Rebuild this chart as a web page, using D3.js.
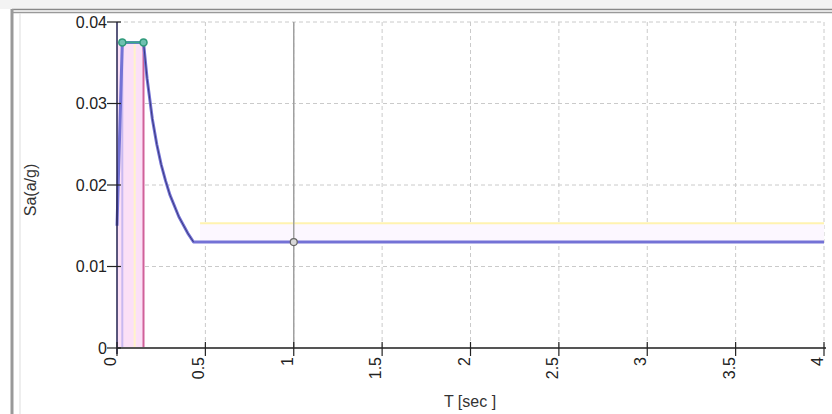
<!DOCTYPE html>
<html>
<head>
<meta charset="utf-8">
<script src="https://cdn.jsdelivr.net/npm/d3@7"></script>
<style>
  body { margin: 0; background: #fff; }
  svg { display: block; font-family: Arial, "Liberation Sans", sans-serif; }
</style>
</head>
<body>
<svg id="chart"></svg>
<script>
// Design response spectrum Sa(T)

const svg = d3.select("#chart");
const width = 832;
const height = 414;
svg.attr("width", width).attr("height", height);

// data
const periods = [0, 0.03, 0.15, 0.17, 0.2, 0.225, 0.25, 0.275, 0.3, 0.35, 0.4, 0.433, 1, 2, 3, 4];
const saValues = [0.015, 0.0375, 0.0375, 0.0331, 0.0281, 0.025, 0.0225, 0.0205, 0.01875, 0.0161, 0.0141, 0.013, 0.013, 0.013, 0.013, 0.013];
const plateau = [0.03, 0.15];     // T0, Ts
const plateauSa = 0.0375;
const markerT = 1;
const markerSa = 0.013;
const yellowSa = 0.0153;
const yellowFrom = 0.47;
const xTicks = [0, 0.5, 1, 1.5, 2, 2.5, 3, 3.5, 4];
const xTickLabels = ["0", "0.5", "1", "1.5", "2", "2.5", "3", "3.5", "4"];
const yTicks = [0, 0.01, 0.02, 0.03, 0.04];
const yTickLabels = ["0", "0.01", "0.02", "0.03", "0.04"];

const x = d3.scaleLinear().domain([0, 4]).range([117, 824]);
const y = d3.scaleLinear().domain([0, 0.04]).range([348, 22]);

// panel frame
svg.append("rect").attr("x", 0).attr("y", 0).attr("width", width).attr("height", 9).attr("fill", "#f3f3f3");
svg.append("line").attr("x1", 12).attr("x2", width).attr("y1", 9.5).attr("y2", 9.5).attr("stroke", "#888").attr("stroke-width", 1.5);
svg.append("line").attr("x1", 12).attr("x2", width).attr("y1", 12.5).attr("y2", 12.5).attr("stroke", "#999").attr("stroke-width", 1.5);
svg.append("line").attr("x1", 12).attr("x2", 12).attr("y1", 9).attr("y2", height).attr("stroke", "#999").attr("stroke-width", 3);
svg.append("line").attr("x1", 20).attr("x2", 20).attr("y1", 13).attr("y2", height).attr("stroke", "#ddd").attr("stroke-width", 1);

// grid
const grid = svg.append("g");
grid.selectAll(".gx").data(xTicks.slice(1)).join("line")
    .attr("x1", d => x(d)).attr("x2", d => x(d))
    .attr("y1", y(0.04)).attr("y2", y(0))
    .attr("stroke", "#cacaca").attr("stroke-dasharray", "4,3");
grid.selectAll(".gy").data(yTicks.slice(1)).join("line")
    .attr("x1", x(0)).attr("x2", x(4))
    .attr("y1", d => y(d)).attr("y2", d => y(d))
    .attr("stroke", "#cacaca").attr("stroke-dasharray", "4,3");

// shaded plateau band
svg.append("rect")
    .attr("x", x(0)).attr("width", x(plateau[1]) - x(0))
    .attr("y", y(plateauSa)).attr("height", y(0) - y(plateauSa))
    .attr("fill", "#fbe0f6");
svg.append("line")
    .attr("x1", x(plateau[0])).attr("x2", x(plateau[0]))
    .attr("y1", y(plateauSa)).attr("y2", y(0))
    .attr("stroke", "#c8b8f0").attr("stroke-width", 2);
svg.append("line")
    .attr("x1", x(0.1)).attr("x2", x(0.1))
    .attr("y1", y(plateauSa)).attr("y2", y(0))
    .attr("stroke", "#fff3c8").attr("stroke-width", 2);
svg.append("line")
    .attr("x1", x(plateau[1])).attr("x2", x(plateau[1]))
    .attr("y1", y(plateauSa)).attr("y2", y(0))
    .attr("stroke", "#d0609a").attr("stroke-width", 2);

// faint band under yellow line
svg.append("rect")
    .attr("x", x(yellowFrom)).attr("width", x(4) - x(yellowFrom))
    .attr("y", y(yellowSa)).attr("height", y(markerSa) - y(yellowSa))
    .attr("fill", "#fcf7ff");
svg.append("line")
    .attr("x1", x(yellowFrom)).attr("x2", x(4))
    .attr("y1", y(yellowSa)).attr("y2", y(yellowSa))
    .attr("stroke", "#fff3b0").attr("stroke-width", 2);

// vertical marker line at T = 1
svg.append("line")
    .attr("x1", x(markerT)).attr("x2", x(markerT))
    .attr("y1", y(0.04)).attr("y2", y(0))
    .attr("stroke", "#a0a0a0").attr("stroke-width", 1.5);

// spectrum curve
const line = d3.line().x((d, i) => x(periods[i])).y(d => y(d));
svg.append("path")
    .datum(saValues)
    .attr("d", line)
    .attr("fill", "none")
    .attr("stroke", "#7472d6")
    .attr("stroke-width", 3)
    .attr("stroke-linejoin", "round");
svg.append("path")
    .datum(saValues.slice(2, 12))
    .attr("d", d3.line().x((d, i) => x(periods[i + 2])).y(d => y(d)))
    .attr("fill", "none")
    .attr("stroke", "#3a3a80")
    .attr("stroke-width", 1);

// plateau markers
svg.append("line")
    .attr("x1", x(plateau[0])).attr("x2", x(plateau[1]))
    .attr("y1", y(plateauSa)).attr("y2", y(plateauSa))
    .attr("stroke", "#3aa88a").attr("stroke-width", 2);
svg.selectAll(".pm").data(plateau).join("circle")
    .attr("cx", d => x(d)).attr("cy", y(plateauSa)).attr("r", 3.5)
    .attr("fill", "#6fc0b0").attr("stroke", "#2f9a7a").attr("stroke-width", 1.5);
svg.append("circle")
    .attr("cx", x(markerT)).attr("cy", y(markerSa)).attr("r", 3.5)
    .attr("fill", "#d8d8d8").attr("stroke", "#666").attr("stroke-width", 1.2);

// axes
svg.append("line").attr("x1", x(0)).attr("x2", x(4) + 2).attr("y1", y(0)).attr("y2", y(0))
    .attr("stroke", "#555").attr("stroke-width", 2);
svg.append("line").attr("x1", x(0)).attr("x2", x(0)).attr("y1", y(0.04)).attr("y2", y(0) + 6)
    .attr("stroke", "#222250").attr("stroke-width", 1.5);

svg.selectAll(".xt").data(xTicks).join("line")
    .attr("x1", d => x(d)).attr("x2", d => x(d))
    .attr("y1", y(0) - 6).attr("y2", y(0) + 8)
    .attr("stroke", "#222").attr("stroke-width", 1.2);
svg.selectAll(".yt").data(yTicks).join("line")
    .attr("x1", x(0) - 10).attr("x2", x(0) + 4)
    .attr("y1", d => y(d)).attr("y2", d => y(d))
    .attr("stroke", "#222").attr("stroke-width", 1.2);

svg.selectAll(".xl").data(xTicks).join("text")
    .attr("transform", d => `translate(${x(d) - 1},357) rotate(-90)`)
    .attr("text-anchor", "end")
    .attr("font-size", 16)
    .attr("fill", "#222")
    .text((d, i) => xTickLabels[i]);
svg.selectAll(".yl").data(yTicks).join("text")
    .attr("x", x(0) - 10)
    .attr("y", d => y(d))
    .attr("dy", "0.35em")
    .attr("text-anchor", "end")
    .attr("font-size", 16)
    .attr("fill", "#222")
    .text((d, i) => yTickLabels[i]);

svg.append("text")
    .attr("transform", "translate(36,190) rotate(-90)")
    .attr("text-anchor", "middle")
    .attr("font-size", 16)
    .attr("fill", "#333")
    .text("Sa(a/g)");
svg.append("text")
    .attr("x", 470).attr("y", 407)
    .attr("text-anchor", "middle")
    .attr("font-size", 16)
    .attr("fill", "#333")
    .text("T [sec ]");
</script>
</body>
</html>
